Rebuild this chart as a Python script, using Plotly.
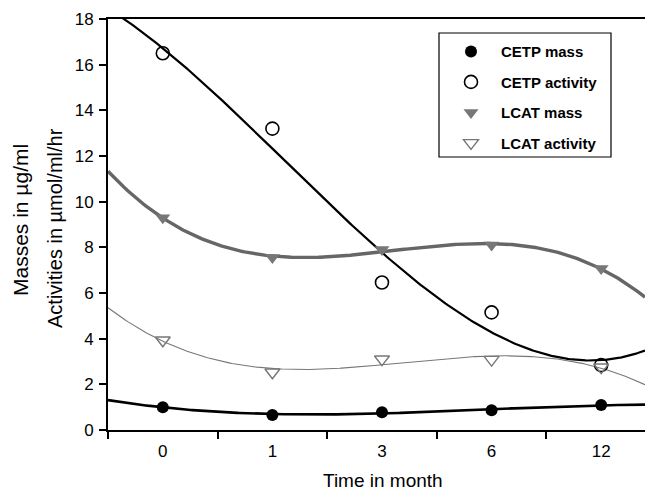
import numpy as np
import plotly.graph_objects as go

categories = ["0", "1", "3", "6", "12"]
cetp_mass = [1.0, 0.66, 0.78, 0.87, 1.09]
cetp_activity = [16.5, 13.2, 6.46, 5.15, 2.84]
lcat_mass = [9.3, 7.55, 7.9, 8.1, 7.07]
lcat_activity = [3.93, 2.53, 3.1, 3.08, 2.75]
y_ticks = [0, 2, 4, 6, 8, 10, 12, 14, 16, 18]

idx = np.arange(len(categories))
xs = np.linspace(-0.5, 4.4, 300)

def fit(vals):
    c = np.polyfit(idx, vals, 3)
    return np.polyval(c, xs)

fig = go.Figure()
font = "Liberation Sans, Arial, sans-serif"

series = [
    ("CETP mass", cetp_mass, dict(symbol="circle", size=12, color="black"), dict(color="black", width=2.6)),
    ("CETP activity", cetp_activity, dict(symbol="circle-open", size=13, color="black", line=dict(width=1.6)), dict(color="black", width=2.2)),
    ("LCAT mass", lcat_mass, dict(symbol="triangle-down", size=13, color="#777777"), dict(color="#666666", width=3.4)),
    ("LCAT activity", lcat_activity, dict(symbol="triangle-down-open", size=13, color="#777777", line=dict(width=1.4)), dict(color="#777777", width=1.1)),
]

for name, vals, mk, ln in series:
    fig.add_trace(go.Scatter(x=xs, y=fit(vals), mode="lines", line=ln,
                             showlegend=False, hoverinfo="skip"))
for name, vals, mk, ln in series:
    fig.add_trace(go.Scatter(x=idx, y=vals, mode="markers", marker=mk, name=name,
                             legendgroup=name, cliponaxis=False))

fig.update_layout(
    width=645, height=493,
    margin=dict(l=108, r=0, t=19, b=63),
    plot_bgcolor="white", paper_bgcolor="white",
    font=dict(family=font, size=17, color="black"),
    showlegend=True,
    legend=dict(x=(441 - 108) / 537, y=0.985 - 10 / 411, xanchor="left", yanchor="top",
                borderwidth=0, bgcolor="rgba(0,0,0,0)",
                font=dict(family=font, size=15, color="black", weight="bold"),
                tracegroupgap=8, itemwidth=50),
    xaxis=dict(range=[-0.5, 4.4], tickvals=list(idx), ticktext=categories,
               ticks="", showgrid=False, zeroline=False,
               showline=True, linecolor="black", linewidth=2, mirror=True,
               tickfont=dict(size=17), ticklabelstandoff=5,
               minor=dict(tickvals=[-0.5, 0.5, 1.5, 2.5, 3.5], ticks="outside",
                          ticklen=7, tickwidth=2, tickcolor="black")),
    yaxis=dict(range=[0, 18], tickvals=y_ticks, ticks="outside", ticklen=7,
               tickwidth=2, tickcolor="black", showgrid=False, zeroline=False,
               showline=True, linecolor="black", linewidth=2,
               tickfont=dict(size=17), ticklabelstandoff=2),
)

# legend frame
fig.add_shape(type="rect", xref="paper", yref="paper",
              x0=(439 - 108) / 537, x1=(611 - 108) / 537,
              y0=1 - (157 - 19) / 411, y1=1 - (33 - 19) / 411,
              line=dict(color="black", width=1.2), fillcolor="rgba(0,0,0,0)", layer="above")

fig.add_annotation(text="Time in month", xref="paper", yref="paper",
                   x=(383 - 108) / 537, y=1 - (480 - 19) / 411, xanchor="center", yanchor="middle",
                   showarrow=False, font=dict(size=19), borderpad=0)
fig.add_annotation(text="Masses in µg/ml", textangle=-90, xref="paper", yref="paper",
                   x=(21 - 108) / 537, y=1 - (220 - 19) / 411, xanchor="center", yanchor="middle",
                   showarrow=False, font=dict(size=21))
fig.add_annotation(text="Activities in µmol/ml/hr", textangle=-90, xref="paper", yref="paper",
                   x=(55 - 108) / 537, y=1 - (228 - 19) / 411, xanchor="center", yanchor="middle",
                   showarrow=False, font=dict(size=20))

fig.write_html("out.html", post_script="document.body.style.margin='0';",
               config={"displayModeBar": False})
